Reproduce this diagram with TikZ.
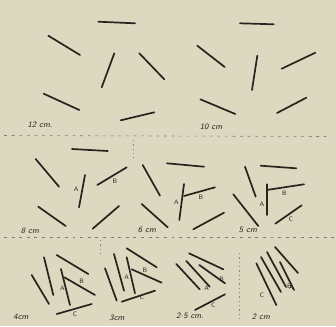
\documentclass[tikz,border=0pt]{standalone}
\usepackage{tikz}
\usetikzlibrary{positioning}
\definecolor{paper}{RGB}{221,216,192}
\definecolor{ink}{RGB}{38,36,30}
\tikzset{
  stick/.style={ink,line width=1.45pt,line cap=round},
  sep/.style={ink!60,line width=0.5pt,dash pattern=on 2.5pt off 4pt},
  vsep/.style={ink!55,line width=0.5pt,dash pattern=on 1.2pt off 2.5pt},
  lettr/.style={ink,font=\sffamily\fontsize{5.5}{6}\selectfont,inner sep=0pt},
  dist/.style={ink,font=\sffamily\itshape\scriptsize,inner sep=0pt}
}
\begin{document}
\begin{tikzpicture}[x=0.03cm,y=-0.03cm]
  \fill[paper] (0,0) rectangle (336,326);
  \useasboundingbox (0,0) rectangle (336,326);
  % 12 cm
  \draw[stick] (98.3,21.7) -- (135,23.3);
  \draw[stick] (48.3,35.7) -- (80,55);
  \draw[stick] (114.3,53.3) -- (101.7,87.3);
  \draw[stick] (139.3,53.3) -- (164.3,79.3);
  \draw[stick] (43.7,93.7) -- (79.3,110);
  \draw[stick] (120.7,120.3) -- (154.3,112.3);
  \node[dist] (d12) at (40,125) {12 cm.};
  % 10 cm
  \draw[stick] (240,23.3) -- (273.7,24.3);
  \draw[stick] (197.3,45.7) -- (224.7,67);
  \draw[stick] (257.3,55.7) -- (252,90);
  \draw[stick] (281.7,68.7) -- (315.3,52.7);
  \draw[stick] (200.3,99.3) -- (235.3,114);
  \draw[stick] (277,113) -- (306.3,97.7);
  \node[dist] (d10) at (211,127) {10 cm};
  % separators
  \draw[sep] (4,135.5) -- (326,136.5);
  \draw[vsep] (133,140) -- (133,158);
  % 8 cm
  \draw[stick] (72,149) -- (107.7,151);
  \draw[stick] (35.7,159) -- (59,186.7);
  \draw[stick] (85,175) -- (79,207.3);
  \draw[stick] (97.3,185) -- (126.7,167.3);
  \draw[stick] (38.3,206.7) -- (65.7,226);
  \draw[stick] (92.7,228.7) -- (119,206);
  \node[lettr] (a8) at (76.2,189) {A};
  \node[lettr] (b8) at (115,181.7) {B};
  \node[dist] (d8) at (30,231) {8 cm};
  % 6 cm
  \draw[stick] (167,163.3) -- (204,166.7);
  \draw[stick] (142.7,165) -- (160,195.7);
  \draw[stick] (184,184) -- (179.3,220);
  \draw[stick] (184,196) -- (215,187.3);
  \draw[stick] (141.7,204) -- (167.7,227.3);
  \draw[stick] (193.3,229.3) -- (224,212.7);
  \node[lettr] (a6) at (176.5,202.7) {A};
  \node[lettr] (b6) at (201,197.7) {B};
  \node[dist] (d6) at (147,230) {6 cm};
  % 5 cm
  \draw[stick] (260.7,165.7) -- (296.3,168.3);
  \draw[stick] (245,166.7) -- (255.7,196.7);
  \draw[stick] (266.7,184.3) -- (266.7,215);
  \draw[stick] (266.7,190) -- (304,184.3);
  \draw[stick] (233.3,194.3) -- (258.3,226);
  \draw[stick] (275.3,223.7) -- (301.7,205.3);
  \node[lettr] (a5) at (262,204) {A};
  \node[lettr] (b5) at (284.3,193.3) {B};
  \node[lettr] (c5) at (290.7,219) {C};
  \node[dist] (d5) at (248,230) {5 cm};
  % separators
  \draw[sep] (4,237.5) -- (334,237.5);
  \draw[vsep] (100,240) -- (100,256);
  \draw[vsep] (239,253) -- (239,322);
  % 4 cm
  \draw[stick] (31.7,275) -- (49,304);
  \draw[stick] (44,257.3) -- (53.3,295);
  \draw[stick] (61,269) -- (70,305);
  \draw[stick] (56.7,255) -- (88.3,274);
  \draw[stick] (64.3,277.3) -- (95,295);
  \draw[stick] (56.7,314) -- (91.7,304);
  \node[lettr] (a4) at (62.3,288.3) {A};
  \node[lettr] (b4) at (81.7,281.7) {B};
  \node[lettr] (c4) at (75,314.5) {C};
  \node[dist] (d4) at (21,317) {4cm};
  % 3 cm
  \draw[stick] (105,268.3) -- (116.7,300.7);
  \draw[stick] (114,254) -- (124,290.7);
  \draw[stick] (126.7,257.3) -- (135,293.3);
  \draw[stick] (126.7,248.3) -- (156.7,267.3);
  \draw[stick] (131.7,269.3) -- (161.7,282.7);
  \draw[stick] (121.7,301.7) -- (155,290.7);
  \node[lettr] (a3) at (126.7,277.3) {A};
  \node[lettr] (b3) at (145,270) {B};
  \node[lettr] (c3) at (141.7,297) {C};
  \node[dist] (d3) at (117,318) {3cm};
  % 2.5 cm
  \draw[stick] (189,253.3) -- (223.3,269.3);
  \draw[stick] (176.3,264) -- (199.7,289.3);
  \draw[stick] (186.3,261) -- (209.7,286.7);
  \draw[stick] (199.3,265) -- (225,283.3);
  \draw[stick] (195,310) -- (225,294.3);
  \node[lettr] (a25) at (206.7,288.3) {A};
  \node[lettr] (b25) at (221.7,279.3) {B};
  \node[lettr] (c25) at (213.3,305) {C};
  \node[dist] (d25) at (190,316) {2$\cdot$5 cm.};
  % 2 cm
  \draw[stick] (256.3,263.3) -- (276.3,305);
  \draw[stick] (261,257) -- (281,292);
  \draw[stick] (267,252) -- (286,287);
  \draw[stick] (275,247) -- (298,273);
  \draw[stick] (280,262) -- (294,290);
  \node[lettr] (c2) at (261.7,295) {C};
  \node[lettr] (b2) at (289.5,286.7) {B};
  \node[lettr] (a2) at (291.5,287.2) {A};
  \node[dist] (d2) at (261,317) {2 cm};
\end{tikzpicture}
\end{document}
